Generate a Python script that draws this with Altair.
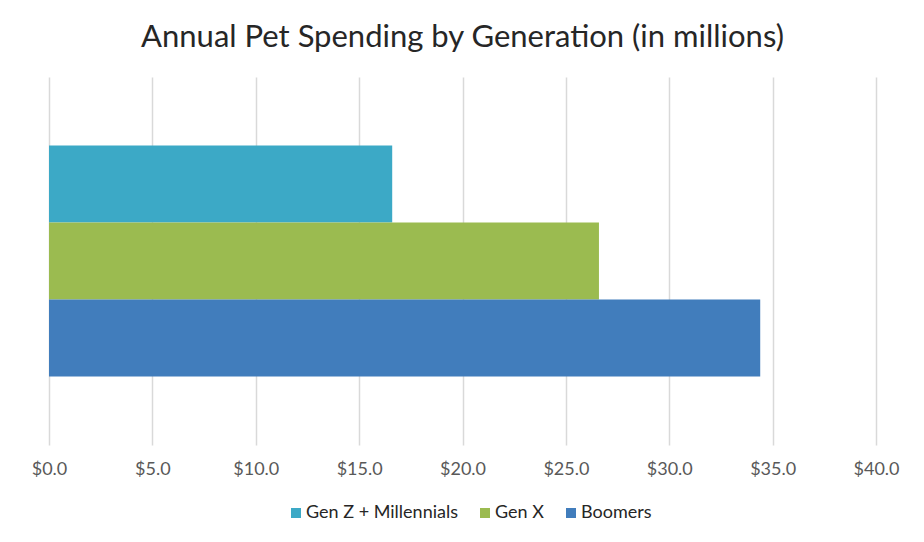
import altair as alt
import pandas as pd

generations = ["Gen Z + Millennials", "Gen X", "Boomers"]
spending = [16.6, 26.6, 34.4]
colors = ["#3CA9C6", "#9BBB50", "#417DBC"]
x_ticks = [0, 5, 10, 15, 20, 25, 30, 35, 40]

df = pd.DataFrame({"generation": generations, "spending": spending})

FONT = "Lato"

chart = (
    alt.Chart(df)
    .mark_bar()
    .encode(
        x=alt.X(
            "spending:Q",
            scale=alt.Scale(domain=[0, 40], nice=False),
            axis=alt.Axis(
                values=x_ticks,
                format="$.1f",
                title=None,
                grid=True,
                gridColor="#d9d9d9",
                gridWidth=1.5,
                domain=False,
                ticks=False,
                labelFlush=False,
                labelFontSize=18,
                labelColor="#595959",
                labelPadding=15,
                labelFont=FONT,
            ),
        ),
        y=alt.Y(
            "generation:N",
            sort=generations,
            scale=alt.Scale(paddingInner=0, paddingOuter=0.89),
            axis=None,
        ),
        color=alt.Color(
            "generation:N",
            sort=generations,
            scale=alt.Scale(domain=generations, range=colors),
            legend=alt.Legend(
                orient="none",
                legendX=238,
                legendY=427,
                direction="horizontal",
                title=None,
                symbolType="square",
                symbolSize=100,
                symbolStrokeWidth=0,
                labelFont=FONT,
                labelFontSize=18,
                labelColor="#262626",
                labelOffset=1,
                columnPadding=18,
            ),
        ),
    )
    .properties(
        width=827,
        height=368,
        title=alt.TitleParams(
            "Annual Pet Spending by Generation (in millions)",
            font=FONT,
            fontSize=31,
            fontWeight="normal",
            color="#262626",
            anchor="middle",
            offset=23,
        ),
        autosize="none",
        padding={"left": 41, "top": 69, "right": 40, "bottom": 89},
    )
    .configure_view(stroke=None)
)

chart.save("out.html", embed_options={"renderer": "svg", "actions": False})
